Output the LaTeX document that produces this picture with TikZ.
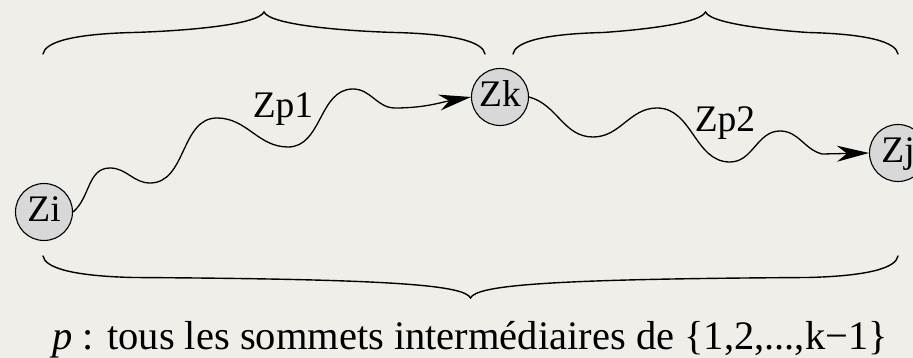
\documentclass[tikz,border=0pt]{standalone}
\usepackage{fontspec}
\setmainfont{Liberation Serif}
\usetikzlibrary{arrows.meta}

\definecolor{paper}{RGB}{240,238,233}
\definecolor{vertexfill}{RGB}{216,216,216}

% Curly brace between x=#1 and x=#2, ends at height #3,
% #4 = 1 for a brace opening downwards (tip up), -1 for tip down.
\newcommand\curlybrace[4]{%
  \pgfmathsetmacro\cbmid{(#1+#2)/2}%
  \draw[bracestroke] ({#1},{#3})
    .. controls ({#1+2},{#3+12*#4}) and ({#1+30},{#3+20*#4}) .. ({#1+90},{#3+21.5*#4})
    .. controls ({\cbmid-80},{#3+23*#4}) and ({\cbmid-6},{#3+29*#4}) .. ({\cbmid},{#3+42*#4})
    .. controls ({\cbmid+6},{#3+29*#4}) and ({\cbmid+80},{#3+23*#4}) .. ({#2-90},{#3+21.5*#4})
    .. controls ({#2-30},{#3+20*#4}) and ({#2-2},{#3+12*#4}) .. ({#2},{#3});%
}

\begin{document}
\begin{tikzpicture}[
  x=1pt, y=1pt,
  font=\fontsize{37.5}{45}\selectfont,
  vertex/.style={circle, draw, line width=1.1pt, fill=vertexfill,
    minimum size=57pt, inner sep=0pt, text height=26pt, text depth=7pt},
  walk/.style={line width=1.3pt,
    -{Stealth[length=32pt,width=16pt,inset=10pt]}},
  bracestroke/.style={line width=1.4pt, line cap=round},
  label/.style={anchor=base, inner sep=0pt}
]
\fill[paper] (0,0) rectangle (913,-358);
\useasboundingbox (0,0) rectangle (913,-358);
\clip (0,0) rectangle (913,-358);

% vertices
\node[vertex] (Zi) at (44,-212) {Zi};
\node[vertex] (Zk) at (500,-97) {Zk};
\node[vertex] (Zj) at (898,-153) {Zj};

% path labels
\node[label] (lp1) at (283,-118) {Zp1};
\node[label] (lp2) at (725,-132) {Zp2};

% wavy paths
\draw[walk] (Zi.east) to[out=40,in=180] (110,-168)
  to[out=0,in=180] (150,-183)
  to[out=0,in=180] (217,-118)
  to[out=0,in=180] (288,-147)
  to[out=0,in=180] (353,-89)
  to[out=0,in=180] (395,-108)
  to[out=0,in=190] (Zk.west);

\draw[walk] (Zk.east) to[out=-15,in=180] (593,-137)
  to[out=0,in=180] (657,-108)
  to[out=0,in=180] (730,-162)
  to[out=0,in=180] (780,-131)
  to[out=0,in=165] (822,-154)
  -- (Zj.west);

% braces
\curlybrace{43}{485}{-54}{1}
\curlybrace{513}{898}{-54}{1}
\curlybrace{43}{898}{-256}{-1}

% caption
\node[label, font=\fontsize{40.5}{48}\selectfont] (caption) at (470,-349)
  {\textit{p} : tous les sommets intermédiaires de \{1,2,...,k−1\}};
\end{tikzpicture}
\end{document}
